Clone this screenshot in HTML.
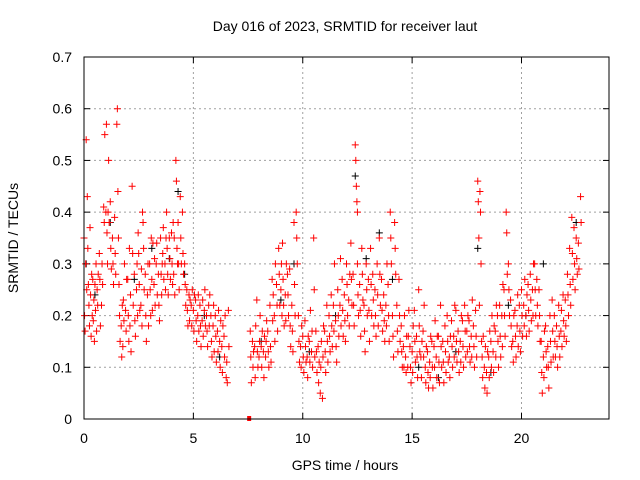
<!DOCTYPE html>
<html><head><meta charset="utf-8"><style>
body{margin:0;background:#fff}
svg{display:block;font-family:"Liberation Sans",sans-serif}
</style></head><body>
<svg id="c" width="640" height="480" viewBox="0 0 640 480">
<text x="345" y="31" text-anchor="middle" font-size="14">Day 016 of 2023, SRMTID for receiver laut</text>
<text x="345" y="470" text-anchor="middle" font-size="14">GPS time / hours</text>
<text transform="translate(18,238) rotate(-90)" text-anchor="middle" font-size="14">SRMTID / TECUs</text>
<g id="grid"></g><g id="ticks"></g><g id="black"></g><g id="red"></g>
<rect x="84" y="57" width="525" height="362" fill="none" stroke="#000" stroke-width="1"/>
</svg>
<script>
const xTicks=[0,5,10,15,20];
const yTicks=[0,0.1,0.2,0.3,0.4,0.5,0.6,0.7];
const yTickLabels=["0","0.1","0.2","0.3","0.4","0.5","0.6","0.7"];
const redT=[0,0.1,0.2,0.3,0.4,0.5,0.6,0.7,0.8,0.9,1.0,1.1,1.2,1.3,1.4,1.5,1.6,1.7,1.8,1.9,2.0,2.1,2.2,2.3,2.4,2.5,2.6,2.7,2.8,2.9,3.0,3.1,3.2,3.3,3.4,3.5,3.6,3.7,3.8,3.9,4.0,4.1,4.2,4.3,4.4,4.5,4.6,4.7,4.8,4.9,5.0,5.1,5.2,5.3,5.4,5.5,5.6,5.7,5.8,5.9,6.0,6.1,6.2,6.3,6.4,6.5,6.6,7.6,7.7,7.8,7.9,8.0,8.1,8.2,8.3,8.4,8.5,8.6,8.7,8.8,8.9,9.0,9.1,9.2,9.3,9.4,9.5,9.6,9.7,9.8,9.9,10.0,10.1,10.2,10.3,10.4,10.5,10.6,10.7,10.8,10.9,11.0,11.1,11.2,11.3,11.4,11.5,11.6,11.7,11.8,11.9,12.0,12.1,12.2,12.3,12.4,12.5,12.6,12.7,12.8,12.9,13.0,13.1,13.2,13.3,13.4,13.5,13.6,13.7,13.8,13.9,14.0,14.1,14.2,14.3,14.4,14.5,14.6,14.7,14.8,14.9,15.0,15.1,15.2,15.3,15.4,15.5,15.6,15.7,15.8,15.9,16.0,16.1,16.2,16.3,16.4,16.5,16.6,16.7,16.8,16.9,17.0,17.1,17.2,17.3,17.4,17.5,17.6,17.7,17.8,17.9,18.0,18.1,18.2,18.3,18.4,18.5,18.6,18.7,18.8,18.9,19.0,19.1,19.2,19.3,19.4,19.5,19.6,19.7,19.8,19.9,20.0,20.1,20.2,20.3,20.4,20.5,20.6,20.7,20.8,20.9,21.0,21.1,21.2,21.3,21.4,21.5,21.6,21.7,21.8,21.9,22.0,22.1,22.2,22.3,22.4,22.5,22.6,22.7];
const redV=[[.35,.2,.17,.3],[.54,.25,.43,.33],[.26,.22,.18,.37],[.24,.16,.28,.2],[.27,.19,.23,.15],[.26,.21,.3,.17],[.25,.22,.28],[.32,.27,.18],[.22,.3,.26],[.41,.38,.55],[.4,.57,.36,.3],[.4,.5,.38],[.42,.33,.29],[.35,.3,.26],[.39,.32,.28],[.57,.6,.44,.35],[.26,.2,.15],[.18,.12,.22,.14],[.23,.19,.3],[.21,.17,.27],[.27,.2,.15,.33],[.18,.24,.13],[.45,.32,.22],[.28,.19,.16],[.25,.3,.2,.36],[.32,.26,.21],[.22,.29,.18,.4],[.38,.33,.25],[.28,.2,.15],[.24,.3,.18],[.3,.25,.2,.35],[.27,.21,.34],[.26,.31,.22],[.3,.34,.24],[.28,.22,.19],[.35,.28,.24,.3],[.32,.37,.27],[.3,.25,.35,.4],[.33,.28,.24],[.35,.31,.27],[.36,.3,.26,.38],[.28,.35,.24],[.5,.46,.33,.3],[.38,.3,.25],[.43,.35,.3],[.4,.32,.28],[.3,.26,.22],[.25,.21,.18],[.24,.19,.23],[.22,.18,.25],[.21,.17,.24],[.23,.19,.15],[.2,.24,.17],[.22,.18,.14],[.19,.23,.16],[.21,.25,.18],[.2,.17,.14],[.22,.18,.24],[.2,.15,.12],[.18,.22,.13],[.2,.16,.11],[.17,.13,.21],[.15,.1,.19],[.14,.09,.18],[.16,.12,.2],[.08,.11,.07],[.21,.14],[.17,.12,.07],[.15,.1,.13],[.14,.08,.18],[.23,.13,.1],[.12,.15,.2],[.14,.1,.17],[.13,.08,.16],[.12,.15,.19],[.17,.13,.1],[.22,.14,.11],[.27,.19,.24],[.2,.15,.3],[.26,.22,.17],[.33,.28,.22],[.25,.3,.2,.34],[.27,.22,.18],[.24,.19,.3],[.28,.24,.2],[.29,.18,.14],[.22,.17,.13],[.38,.26,.2],[.4,.35,.3],[.2,.15,.11],[.14,.1,.18],[.16,.12,.09],[.19,.14,.11],[.12,.08,.16],[.15,.11,.21],[.13,.17,.1],[.35,.25,.12],[.17,.13,.09],[.14,.07,.11],[.05,.1,.15],[.04,.12,.18],[.17,.13,.09],[.22,.15,.11],[.2,.16,.13],[.24,.18,.14],[.22,.17,.3],[.19,.14,.11],[.25,.2,.16],[.22,.31,.18],[.27,.21,.16],[.24,.19,.15],[.3,.26,.2],[.23,.18,.28],[.34,.27,.22],[.28,.22,.18],[.53,.5,.45,.42,.4],[.3,.24,.2],[.26,.21,.16],[.33,.28,.23],[.22,.17,.13],[.3,.25,.2],[.27,.21,.15],[.33,.26,.2],[.28,.23,.18],[.25,.2,.16],[.3,.24,.18],[.35,.28,.22],[.27,.21,.17],[.24,.19,.15],[.22,.18,.3],[.26,.2,.15],[.4,.35,.3],[.2,.16,.12],[.38,.33,.28],[.22,.17,.13],[.27,.2,.15],[.18,.13,.1],[.14,.1,.2],[.12,.09,.16],[.1,.16,.21],[.14,.1,.07],[.13,.09,.18],[.21,.15,.11],[.16,.12,.08],[.25,.18,.13],[.12,.08,.15],[.17,.12,.22],[.1,.07,.14],[.13,.09,.06],[.11,.08,.16],[.15,.1,.06],[.14,.1,.19],[.12,.08,.16],[.16,.11,.07],[.22,.14,.1],[.15,.11,.07],[.18,.13,.09],[.2,.15,.11],[.12,.08,.16],[.19,.14,.1],[.16,.12,.22],[.21,.15,.11],[.17,.13,.09],[.15,.11,.2],[.19,.14,.1],[.22,.17,.12],[.17,.13,.2],[.19,.14,.11],[.16,.12,.23],[.18,.14,.1],[.21,.16,.12],[.46,.42,.35,.22],[.44,.4,.3,.15],[.12,.08,.16],[.1,.06,.14],[.09,.05,.13],[.12,.08,.17],[.15,.1,.2],[.13,.09,.18],[.17,.12,.22],[.2,.15,.1],[.22,.16,.12],[.2,.14,.26],[.25,.2,.16],[.4,.36,.28],[.3,.25,.2],[.23,.18,.14],[.15,.11,.2],[.21,.16,.12],[.18,.24,.14],[.22,.17,.13],[.25,.2,.16],[.22,.18,.27],[.2,.16,.24],[.26,.21,.17],[.28,.23,.19],[.25,.2,.3],[.3,.25,.2],[.27,.22,.18],[.25,.2,.15],[.15,.09,.05],[.12,.08,.17],[.18,.13,.1],[.14,.1,.06],[.2,.15,.11],[.23,.17,.12],[.2,.15,.12],[.18,.14,.1],[.22,.16,.12],[.17,.21,.14],[.24,.19,.16],[.23,.18,.15],[.28,.24,.2],[.33,.26,.22],[.39,.32,.27],[.37,.3,.25],[.35,.31,.28],[.34,.29],[.43,.38]];
const blackT=[0.1,0.5,1.2,2.3,3.1,3.9,4.3,4.6,5.5,6.2,8.1,9.0,9.6,10.3,11.5,12.4,12.9,13.5,14.1,15.3,16.2,17.0,18.0,18.6,19.4,20.2,21.0,22.5];
const blackV=[0.3,0.24,0.38,0.27,0.33,0.31,0.44,0.28,0.2,0.12,0.15,0.23,0.3,0.13,0.2,0.47,0.31,0.36,0.27,0.1,0.08,0.13,0.33,0.09,0.22,0.2,0.3,0.38];
const zeroT=[7.55];
const NS='http://www.w3.org/2000/svg';
const X=t=>84+t*(525/24), Y=v=>419-v*(362/0.7);
function mk(tag,attrs,parent){const e=document.createElementNS(NS,tag);for(const k in attrs)e.setAttribute(k,attrs[k]);document.getElementById(parent).appendChild(e);return e;}
xTicks.forEach(t=>{
  const g=mk('line',{x1:X(t),x2:X(t),y1:57,y2:419,stroke:'#a0a0a0','stroke-dasharray':'2,3'},'grid');
  
  
  mk('line',{x1:X(t),x2:X(t),y1:419,y2:413,stroke:'#000'},'ticks');
  mk('line',{x1:X(t),x2:X(t),y1:57,y2:63,stroke:'#000'},'ticks');
  const l=mk('text',{x:X(t),y:443,'text-anchor':'middle','font-size':14},'ticks');l.textContent=t;
  
  
});
yTicks.forEach((v,i)=>{
  if(i>0&&i<yTicks.length-1){const g=mk('line',{x1:84,x2:609,y1:Y(v),y2:Y(v),stroke:'#a0a0a0','stroke-dasharray':'2,3'},'grid');
  
  }
  mk('line',{x1:84,x2:90,y1:Y(v),y2:Y(v),stroke:'#000'},'ticks');
  mk('line',{x1:603,x2:609,y1:Y(v),y2:Y(v),stroke:'#000'},'ticks');
  const l=mk('text',{x:72,y:Y(v)+5,'text-anchor':'end','font-size':14},'ticks');l.textContent=yTickLabels[i];
  
  
});
function plus(t,v,col,parent){
  const x=X(t),y=Y(v);
  const p=mk('path',{d:`M${x-3.5},${y}h7M${x},${y-3.5}v7`,stroke:col,'stroke-width':1,fill:'none'},parent);
  
  
}
blackT.forEach((t,i)=>plus(t,blackV[i],'#000','black'));
redT.forEach((t,i)=>redV[i].forEach((v,k)=>plus(t+k*0.025,v,'#f00','red')));
zeroT.forEach(t=>{const r=mk('rect',{x:X(t)-2,y:416,width:4,height:5,fill:'#f00'},'red');

});
</script>
</body></html>
